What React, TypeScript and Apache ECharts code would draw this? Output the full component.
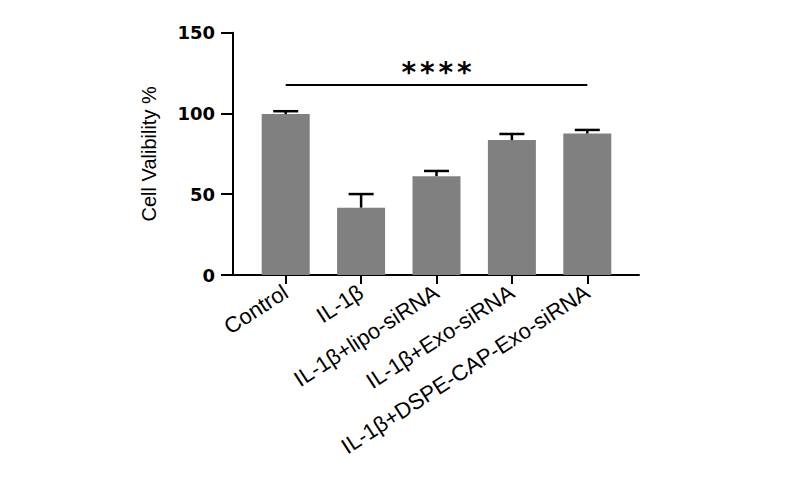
import React, { useEffect, useRef } from "react";
import * as echarts from "echarts";

const categories = [
  "Control",
  "IL-1β",
  "IL-1β+lipo-siRNA",
  "IL-1β+Exo-siRNA",
  "IL-1β+DSPE-CAP-Exo-siRNA",
];
const means = [99.6, 41.7, 61.2, 83.5, 87.6];
const errors = [1.8, 8.4, 3.2, 3.8, 2.2];
const yTicks = { min: 0, max: 150, interval: 50 };
const sigFrom = 0;
const sigTo = 4;
const sigLevel = 117.7;
const sigLabel = "****";
const yName = "Cell Valibility %";

export default function App() {
  const ref = useRef<HTMLDivElement>(null);
  useEffect(() => {
    if (!ref.current) return;
    const chart = echarts.init(ref.current, null, { renderer: "svg" });
    const errData = means.map((m, i) => [i, m, m + errors[i]]);
    const top = 32.7;
    const bottom = 205;
    const starRich = sigLabel
      .split("")
      .map(() => "{s|*}")
      .join("");
    chart.setOption({
      animation: false,
      backgroundColor: "#ffffff",
      grid: [
        { left: 248, right: 175, top, bottom },
        { left: 233, right: 161, top, bottom },
      ],
      xAxis: [
        {
          type: "category",
          gridIndex: 0,
          data: categories,
          axisLine: { show: false },
          axisTick: {
            show: true,
            alignWithLabel: true,
            length: 9,
            lineStyle: { color: "#000", width: 2 },
          },
          axisLabel: {
            rotate: 33,
            margin: 15,
            color: "#000",
            fontFamily: "Liberation Sans",
            fontSize: 22,
          },
        },
        {
          type: "value",
          gridIndex: 1,
          min: 0,
          max: 1,
          axisLine: { show: true, lineStyle: { color: "#000", width: 2 } },
          axisTick: { show: false },
          axisLabel: { show: false },
          splitLine: { show: false },
        },
      ],
      yAxis: [
        {
          type: "value",
          gridIndex: 0,
          min: yTicks.min,
          max: yTicks.max,
          interval: yTicks.interval,
          offset: 15,
          name: yName,
          nameLocation: "middle",
          nameGap: 74,
          nameTextStyle: {
            color: "#000",
            fontFamily: "Liberation Sans",
            fontSize: 20,
          },
          axisLine: { show: true, lineStyle: { color: "#000", width: 2 } },
          axisTick: { show: true, length: 12, lineStyle: { color: "#000", width: 2 } },
          axisLabel: {
            margin: 18,
            color: "#000",
            fontWeight: "bold",
            fontFamily: "DejaVu Sans",
            fontSize: 18,
          },
          splitLine: { show: false },
        },
        {
          type: "value",
          gridIndex: 1,
          min: yTicks.min,
          max: yTicks.max,
          show: false,
        },
      ],
      series: [
        {
          type: "bar",
          xAxisIndex: 0,
          yAxisIndex: 0,
          data: means,
          barWidth: 48,
          itemStyle: { color: "#808080" },
          markLine: {
            silent: true,
            symbol: "none",
            lineStyle: { color: "#000", width: 2, type: "solid" },
            label: {
              show: true,
              position: "middle",
              formatter: starRich,
              distance: -2,
              rich: {
                s: {
                  color: "#000",
                  fontWeight: "bold",
                  fontFamily: "DejaVu Sans",
                  fontSize: 28,
                  width: 18.5,
                  align: "center",
                },
              },
            },
            data: [
              [
                { coord: [sigFrom, sigLevel] },
                { coord: [sigTo, sigLevel] },
              ],
            ],
          },
        },
        {
          type: "custom",
          xAxisIndex: 0,
          yAxisIndex: 0,
          data: errData,
          renderItem: (params: any, api: any) => {
            const x = api.value(0);
            const base = api.coord([x, api.value(1)]);
            const hi = api.coord([x, api.value(2)]);
            const half = 12.5;
            return {
              type: "group",
              children: [
                {
                  type: "line",
                  shape: { x1: base[0], y1: base[1], x2: hi[0], y2: hi[1] },
                  style: { stroke: "#000", lineWidth: 2.5 },
                },
                {
                  type: "line",
                  shape: { x1: hi[0] - half, y1: hi[1], x2: hi[0] + half, y2: hi[1] },
                  style: { stroke: "#000", lineWidth: 2.5 },
                },
              ],
            };
          },
          z: 5,
        },
      ],
    });
    return () => chart.dispose();
  }, []);
  return (
    <div
      ref={ref}
      style={{ position: "fixed", left: 0, top: 0, width: 800, height: 480 }}
    />
  );
}
